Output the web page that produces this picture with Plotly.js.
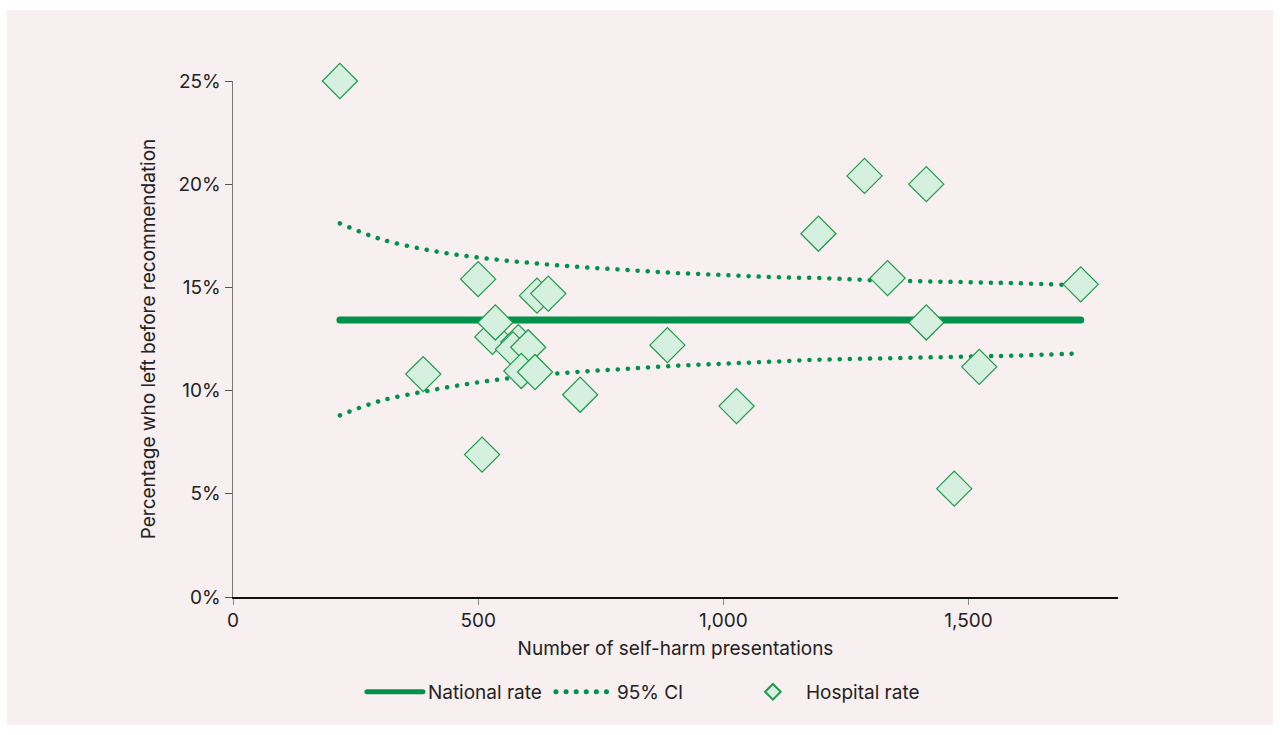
<!DOCTYPE html>
<html>
<head>
<meta charset="utf-8">
<script src="https://cdn.plot.ly/plotly-3.0.1.min.js"></script>
<style>
  html, body { margin: 0; padding: 0; background: #ffffff; width: 1280px; height: 735px; overflow: hidden; }
  #chart { position: absolute; left: 7px; top: 10px; width: 1266px; height: 715px; }
  .scatterlayer .js-line, .legendlines path { stroke-linecap: round; }
</style>
</head>
<body>
<div id="chart"></div>
<script>
// Hospital rates: number of presentations and percentage who left
const hospitalN = [218, 500, 529, 535, 620, 643, 582, 571, 602, 588, 616, 388, 508, 708, 886, 1027, 1194, 1288, 1414, 1335, 1414, 1471, 1522, 1729];
const hospitalPct = [25.0, 15.4, 12.6, 13.3, 14.6, 14.7, 12.35, 12.0, 12.1, 10.95, 10.9, 10.8, 6.9, 9.8, 12.2, 9.25, 17.6, 20.4, 20.0, 15.45, 13.3, 5.25, 11.15, 15.15];

// National rate
const nationalN = [218, 1729];
const nationalPct = [13.42, 13.42];

// 95% CI limits
const ciN = [218, 300, 400, 500, 600, 700, 800, 900, 1000, 1100, 1200, 1300, 1400, 1500, 1600, 1729];
const ciUpper = [18.1, 17.35, 16.8, 16.45, 16.2, 16.0, 15.85, 15.7, 15.6, 15.5, 15.45, 15.35, 15.3, 15.25, 15.2, 15.1];
const ciLower = [8.8, 9.5, 10.0, 10.4, 10.7, 10.9, 11.05, 11.2, 11.3, 11.4, 11.5, 11.55, 11.6, 11.65, 11.7, 11.8];

const yTicks = [0, 5, 10, 15, 20, 25];
const yTickLabels = ['0%', '5%', '10%', '15%', '20%', '25%'];
const xTicks = [0, 500, 1000, 1500];
const xTickLabels = ['0', '500', '1,000', '1,500'];

const green = '#00924a';
const font = { family: 'Inter, "Open Sans", sans-serif', size: 19, color: '#222222' };

const traces = [
  {
    x: nationalN, y: nationalPct, type: 'scatter', mode: 'lines',
    name: 'National rate', line: { color: green, width: 7 }, hoverinfo: 'skip'
  },
  {
    x: ciN, y: ciUpper, type: 'scatter', mode: 'lines',
    name: '95% CI', legendgroup: 'ci',
    line: { color: green, width: 4.5, dash: '0.1px,10px', shape: 'spline' }
  },
  {
    x: ciN, y: ciLower, type: 'scatter', mode: 'lines',
    name: '95% CI', legendgroup: 'ci', showlegend: false,
    line: { color: green, width: 4.5, dash: '0.1px,10px', shape: 'spline' }
  },
  {
    x: hospitalN, y: hospitalPct, type: 'scatter', mode: 'markers',
    name: 'Hospital rate', cliponaxis: false,
    marker: { symbol: 'diamond', size: 27, color: '#d5f0de', line: { color: '#1f9a4a', width: 1.2 } }
  }
];

const layout = {
  width: 1266, height: 715,
  paper_bgcolor: '#f8eff0', plot_bgcolor: '#f8eff0',
  margin: { l: 226, r: 155, t: 71, b: 128 },
  font: font,
  showlegend: true,
  legend: {
    orientation: 'h', x: 0.466, xanchor: 'center', y: -0.184, yanchor: 'middle',
    font: font, itemsizing: 'constant', traceorder: 'normal', itemwidth: 56,
    entrywidth: 118, entrywidthmode: 'pixels'
  },
  xaxis: {
    range: [0, 1805], tickvals: xTicks, ticktext: xTickLabels,
    showgrid: false, zeroline: false, showline: true, linecolor: '#111111', linewidth: 1.5,
    ticks: 'outside', ticklen: 6, tickcolor: '#888888', tickwidth: 1,
    title: { text: 'Number of self-harm presentations', font: font, standoff: 10 },
    tickfont: font
  },
  yaxis: {
    range: [0, 25], tickvals: yTicks, ticktext: yTickLabels,
    showgrid: false, zeroline: false, showline: true, linecolor: '#777777', linewidth: 1.5,
    ticks: 'outside', ticklen: 7, tickcolor: '#555555', tickwidth: 1,
    title: { text: 'Percentage who left before recommendation', font: font, standoff: 18 },
    tickfont: font
  }
};

Plotly.newPlot('chart', traces, layout, { displayModeBar: false, staticPlot: true });
</script>
</body>
</html>
